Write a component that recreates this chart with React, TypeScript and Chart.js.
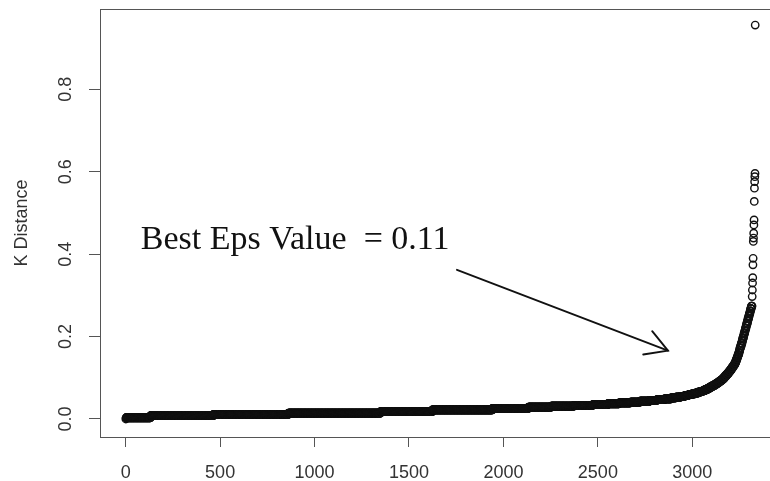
import React, { useEffect, useRef } from 'react';
import { Chart, registerables } from 'chart.js';

Chart.register(...registerables);

// Sorted k-nearest-neighbour distances. The long, slowly rising body is stored
// as runs: each level and how many consecutive points sit on it.
const bodyLevels = [
  0.000, 0.003, 0.008, 0.011, 0.014, 0.018, 0.022, 0.026,
  0.029, 0.031, 0.033, 0.035, 0.037, 0.039, 0.041, 0.043, 0.045, 0.047,
  0.049, 0.051, 0.053, 0.055, 0.057, 0.059, 0.061, 0.063, 0.065, 0.067,
  0.069, 0.072, 0.075, 0.078, 0.081, 0.084, 0.087, 0.090, 0.093,
  0.096, 0.100, 0.104, 0.108, 0.112, 0.116, 0.120, 0.124, 0.128, 0.132,
  0.136, 0.141, 0.146, 0.151, 0.156, 0.161, 0.166,
  0.172, 0.178, 0.184, 0.190, 0.196, 0.202, 0.208, 0.214, 0.220,
  0.226, 0.232, 0.238, 0.244, 0.250, 0.256, 0.262, 0.268, 0.274,
];
const bodyCounts = [
  1, 130, 333, 397, 487, 275, 318, 191,
  120, 120, 100, 80, 60, 60, 50, 50, 40, 40,
  35, 25, 25, 22, 20, 18, 16, 15, 14, 13,
  12, 14, 12, 12, 12, 10, 10, 9, 9,
  8, 8, 8, 8, 7, 7, 6, 6, 6, 6,
  4, 4, 4, 4, 4, 3, 3,
  4, 4, 4, 3, 4, 3, 4, 3, 4,
  3, 4, 3, 4, 3, 4, 3, 4, 4,
];
// Isolated points at the top of the elbow, in order.
const tailValues = [
  0.297, 0.313, 0.330, 0.343, 0.374, 0.390, 0.431, 0.439, 0.451,
  0.471, 0.483, 0.528, 0.560, 0.576, 0.588, 0.596, 0.956,
];

const xTickValues = [0, 500, 1000, 1500, 2000, 2500, 3000];
const yTickValues = [0, 0.2, 0.4, 0.6, 0.8];
const xRange = [-136, 3459];
const yRange = [-0.0437, 0.9949];

const yTitle = 'K Distance';
const noteText = 'Best Eps Value  = 0.11';
const noteAt = { x: 80, y: 0.413 };
const arrowFrom = { x: 1754, y: 0.362 };
const arrowTo = { x: 2871, y: 0.166 };

const SANS = '"Liberation Sans", Arial, sans-serif';
const SERIF = '"Liberation Serif", "Times New Roman", serif';

function buildPoints() {
  const pts: { x: number; y: number }[] = [];
  let i = 1;
  bodyLevels.forEach((v, k) => {
    for (let c = 0; c < bodyCounts[k]; c++) pts.push({ x: i++, y: v });
  });
  tailValues.forEach((v) => pts.push({ x: i++, y: v }));
  return pts;
}

// Plot frame plus the text note and arrow, placed in data units.
const framePlugin = {
  id: 'frameAndNote',
  afterDraw(chart: any) {
    const { ctx, chartArea: a, scales } = chart;
    const sx = scales.x;
    const sy = scales.y;
    ctx.save();
    ctx.strokeStyle = '#555';
    ctx.lineWidth = 1;
    ctx.strokeRect(Math.round(a.left) + 0.5, Math.round(a.top) + 0.5, a.right - a.left, a.bottom - a.top);

    ctx.fillStyle = '#111';
    ctx.font = `34px ${SERIF}`;
    ctx.textBaseline = 'alphabetic';
    ctx.textAlign = 'left';
    ctx.fillText(noteText, sx.getPixelForValue(noteAt.x), sy.getPixelForValue(noteAt.y));

    const x0 = sx.getPixelForValue(arrowFrom.x);
    const y0 = sy.getPixelForValue(arrowFrom.y);
    const x1 = sx.getPixelForValue(arrowTo.x);
    const y1 = sy.getPixelForValue(arrowTo.y);
    ctx.strokeStyle = '#111';
    ctx.lineWidth = 1.9;
    ctx.lineCap = 'round';
    ctx.beginPath();
    ctx.moveTo(x0, y0);
    ctx.lineTo(x1, y1);
    ctx.stroke();
    const ang = Math.atan2(y1 - y0, x1 - x0);
    const len = 25;
    const spread = Math.PI / 6;
    ctx.beginPath();
    ctx.moveTo(x1 - len * Math.cos(ang - spread), y1 - len * Math.sin(ang - spread));
    ctx.lineTo(x1, y1);
    ctx.lineTo(x1 - len * Math.cos(ang + spread), y1 - len * Math.sin(ang + spread));
    ctx.stroke();
    ctx.restore();
  },
};

export default function App() {
  const ref = useRef<HTMLCanvasElement | null>(null);

  useEffect(() => {
    if (!ref.current) return;
    const chart = new Chart(ref.current, {
      type: 'scatter',
      data: {
        datasets: [
          {
            data: buildPoints(),
            pointRadius: 3.7,
            pointBorderWidth: 1.4,
            pointBackgroundColor: 'rgba(0,0,0,0)',
            pointBorderColor: '#111',
            showLine: false,
          },
        ],
      },
      options: {
        animation: false,
        responsive: false,
        devicePixelRatio: 1,
        events: [],
        layout: { padding: { top: 9, right: 21, left: 0, bottom: 0 } },
        plugins: { legend: { display: false }, tooltip: { enabled: false } },
        scales: {
          x: {
            type: 'linear',
            min: xRange[0],
            max: xRange[1],
            afterBuildTicks: (s: any) => {
              s.ticks = xTickValues.map((v) => ({ value: v }));
            },
            afterFit: (s: any) => {
              s.height = 44;
              s.paddingLeft = 0;
              s.paddingRight = 0;
            },
            border: { display: false },
            grid: { drawOnChartArea: false, drawTicks: true, tickLength: 10, color: '#555', lineWidth: 1 },
            ticks: {
              autoSkip: false,
              maxRotation: 0,
              padding: 15,
              color: '#333',
              font: { family: SANS, size: 18 },
              callback: (v: any) => String(v),
            },
          },
          y: {
            type: 'linear',
            min: yRange[0],
            max: yRange[1],
            afterBuildTicks: (s: any) => {
              s.ticks = yTickValues.map((v) => ({ value: v }));
            },
            afterFit: (s: any) => {
              s.width = 100;
              s.paddingTop = 0;
              s.paddingBottom = 0;
            },
            border: { display: false },
            grid: { drawOnChartArea: false, drawTicks: true, tickLength: 11, color: '#555', lineWidth: 1 },
            ticks: {
              minRotation: 90,
              maxRotation: 90,
              crossAlign: 'center',
              padding: 10,
              color: '#333',
              font: { family: SANS, size: 18 },
              callback: (v: any) => Number(v).toFixed(1),
            },
            title: {
              display: true,
              text: yTitle,
              color: '#333',
              font: { family: SANS, size: 18 },
              padding: { top: 11, bottom: 0 },
            },
          },
        },
      },
      plugins: [framePlugin],
    } as any);
    return () => chart.destroy();
  }, []);

  return (
    <div
      style={{
        position: 'fixed',
        left: 0,
        top: 0,
        width: 770,
        height: 481,
        overflow: 'hidden',
        background: '#fff',
      }}
    >
      <canvas ref={ref} width={800} height={481} style={{ width: 800, height: 481, display: 'block' }} />
    </div>
  );
}
